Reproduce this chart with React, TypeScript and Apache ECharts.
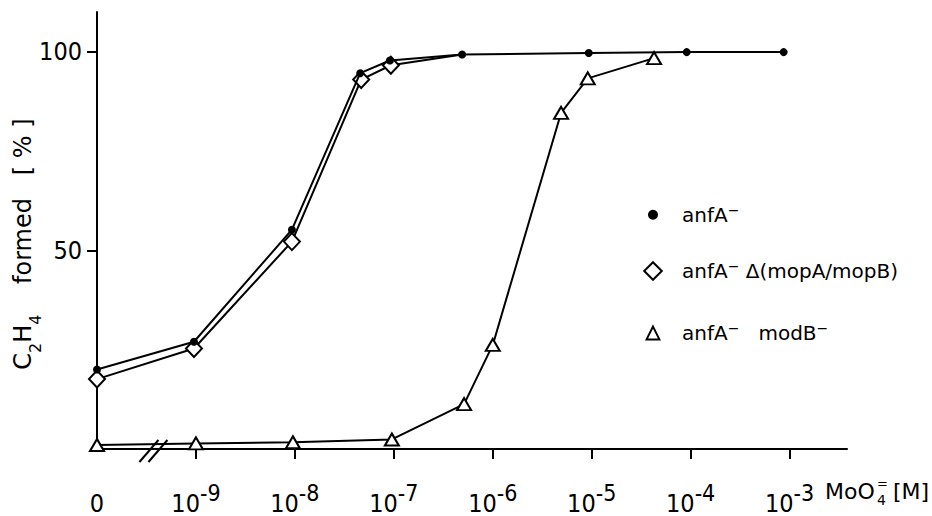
import React, { useEffect, useRef } from 'react';
import * as echarts from 'echarts';

// x position = decade index: 0 = no molybdate, 1 = 10^-9 M, 2 = 10^-8 M ... 7 = 10^-3 M
const xTickValues = [0, 1, 2, 3, 4, 5, 6, 7];
const xTickExponents = ['', '-9', '-8', '-7', '-6', '-5', '-4', '-3'];
const yTickValues = [50, 100];

const seriesNames = ['anfA⁻', 'anfA⁻ Δ(mopA/mopB)', 'anfA⁻   modB⁻'];

const anfAX = [0, 0.98, 1.97, 2.66, 2.96, 3.69, 4.97, 5.96, 6.94];
const anfAY = [20, 27, 55.2, 94.6, 97.8, 99.3, 99.7, 99.9, 99.9];

const mopX = [0, 0.98, 1.97, 2.67, 2.97, 3.69];
const mopY = [17.6, 25.3, 52.2, 93.0, 96.6, 99.3];

const modX = [0, 1, 1.98, 2.98, 3.71, 4.0, 4.69, 4.96, 5.63];
const modY = [1.0, 1.4, 1.7, 2.4, 11.3, 26.2, 84.6, 93.3, 98.4];

const NARROW = '"Liberation Sans Narrow", "DejaVu Sans Condensed", "Liberation Sans", sans-serif';
const SANS = '"DejaVu Sans", "Liberation Sans", sans-serif';

const legendRich = {
  s: { fontSize: 14, lineHeight: 12, verticalAlign: 'top' as const, fontFamily: SANS, color: '#000' },
};
const legendFormatter = (n: string) => n.replace(/⁻/g, '{s|−}');

function makeLegend(name: string, centerY: number, itemHeight: number) {
  return {
    data: [name],
    orient: 'horizontal',
    left: 623,
    top: centerY - itemHeight / 2,
    itemWidth: 48,
    itemHeight,
    selectedMode: false,
    lineStyle: { opacity: 0 },
    formatter: legendFormatter,
    textStyle: { fontFamily: SANS, fontSize: 20, lineHeight: 24, color: '#000', rich: legendRich },
  };
}

export default function App() {
  const ref = useRef<HTMLDivElement>(null);
  useEffect(() => {
    if (!ref.current) return;
    const chart = echarts.init(ref.current, undefined, { renderer: 'svg' });
    const black = '#000';
    chart.setOption({
      animation: false,
      backgroundColor: '#fff',
      grid: { left: 97, right: 85, top: 12, bottom: 67 },
      legend: [
        makeLegend(seriesNames[0], 204, 12.5),
        makeLegend(seriesNames[1], 265, 22),
        makeLegend(seriesNames[2], 324, 16),
      ],
      xAxis: {
        type: 'value',
        min: 0,
        max: 7.58,
        splitLine: { show: false },
        axisLine: { show: true, onZero: false, lineStyle: { color: black, width: 2 } },
        axisTick: { show: true, customValues: xTickValues.slice(1), length: 10, lineStyle: { color: black, width: 2 } },
        axisLabel: {
          customValues: xTickValues,
          margin: 32,
          color: black,
          formatter: (v: number) => {
            const i = xTickValues.indexOf(Math.round(v));
            return i <= 0 ? '{b|0}' : '{b|10}{s|' + xTickExponents[i] + '}';
          },
          rich: {
            b: { fontSize: 25, lineHeight: 44, fontFamily: NARROW, color: black },
            s: { fontSize: 23, lineHeight: 24, verticalAlign: 'top', fontFamily: NARROW, color: black },
          },
        },
      },
      yAxis: {
        type: 'value',
        min: 0,
        max: 110,
        splitLine: { show: false },
        axisLine: { show: true, onZero: false, lineStyle: { color: black, width: 2 } },
        axisTick: { show: true, customValues: yTickValues, length: 10, lineStyle: { color: black, width: 2 } },
        axisLabel: { customValues: yTickValues, margin: 15, fontSize: 25, fontFamily: NARROW, color: black },
      },
      series: [
        {
          name: seriesNames[1],
          type: 'line',
          clip: false,
          z: 2,
          symbol: 'diamond',
          symbolSize: [16, 17],
          itemStyle: { color: '#fff', borderColor: black, borderWidth: 2 },
          lineStyle: { color: black, width: 2 },
          data: mopX.map((x, i) =>
            i === mopX.length - 1 ? { value: [x, mopY[i]], symbol: 'none' } : [x, mopY[i]]
          ),
        },
        {
          name: seriesNames[0],
          type: 'line',
          clip: false,
          z: 3,
          symbol: 'circle',
          symbolSize: 8,
          itemStyle: { color: black },
          lineStyle: { color: black, width: 2 },
          data: anfAX.map((x, i) => [x, anfAY[i]]),
        },
        {
          name: seriesNames[2],
          type: 'line',
          clip: false,
          z: 4,
          symbol: 'triangle',
          symbolSize: [14, 12],
          itemStyle: { color: '#fff', borderColor: black, borderWidth: 2 },
          lineStyle: { color: black, width: 2 },
          data: modX.map((x, i) => [x, modY[i]]),
        },
      ],
    });

    const p = chart.convertToPixel({ xAxisIndex: 0, yAxisIndex: 0 }, [0.55, 0]) as number[];
    const bx = p[0];
    const by = p[1];
    chart.setOption({
      graphic: [
        { type: 'line', shape: { x1: bx - 12, y1: by + 13, x2: bx + 7, y2: by - 9 }, style: { stroke: black, lineWidth: 2 }, z: 10 },
        { type: 'line', shape: { x1: bx - 3, y1: by + 13, x2: bx + 16, y2: by - 9 }, style: { stroke: black, lineWidth: 2 }, z: 10 },
        {
          type: 'text',
          x: 23,
          y: 244,
          rotation: Math.PI / 2,
          style: {
            text: '{n|C}{s|2}{n|H}{s|4}{n|    formed   [ % ]}',
            align: 'center',
            verticalAlign: 'middle',
            rich: {
              n: { fontSize: 24, lineHeight: 40, fontFamily: SANS, fill: black, color: black },
              s: { fontSize: 16, lineHeight: 16, verticalAlign: 'bottom', fontFamily: SANS, fill: black, color: black },
            },
          },
        },
        { type: 'text', x: 825, y: 491, style: { text: 'MoO', font: '22px ' + SANS, fill: black, align: 'left', verticalAlign: 'middle' } },
        { type: 'text', x: 877, y: 500, style: { text: '4', font: '14px ' + SANS, fill: black, align: 'left', verticalAlign: 'middle' } },
        { type: 'text', x: 877, y: 483, style: { text: '=', font: '13px ' + SANS, fill: black, align: 'left', verticalAlign: 'middle' } },
        { type: 'text', x: 893, y: 491, style: { text: '[M]', font: '22px ' + SANS, fill: black, align: 'left', verticalAlign: 'middle' } },
      ],
    });
    return () => chart.dispose();
  }, []);
  return <div ref={ref} style={{ position: 'absolute', left: 0, top: 0, width: 932, height: 516 }} />;
}
